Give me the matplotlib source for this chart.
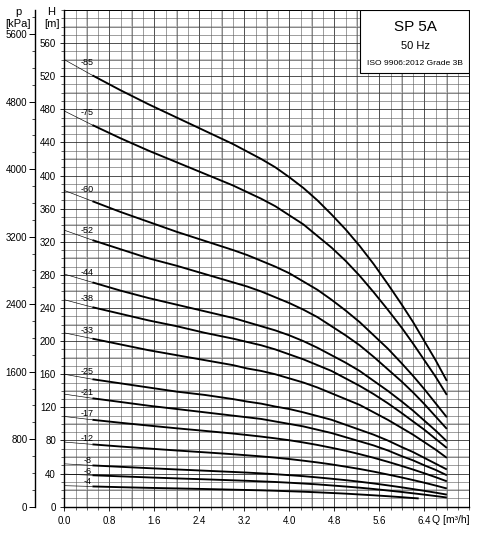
import matplotlib
matplotlib.use("Agg")
import matplotlib.pyplot as plt
from matplotlib.patches import Rectangle
from matplotlib.ticker import MultipleLocator, FixedLocator

plt.rcParams['font.family'] = ['Liberation Sans', 'DejaVu Sans']

# Q points [m3/h] at which the curves were read
flow = [0.0, 0.5, 1.0, 1.5, 2.0, 2.5, 3.0, 3.25, 3.5, 3.75, 4.0, 4.25, 4.5, 4.75,
        5.0, 5.25, 5.5, 5.75, 6.0, 6.2, 6.4, 6.6, 6.8]
flow_4 = [0.0, 0.5, 1.0, 1.5, 2.0, 2.5, 3.0, 3.25, 3.5, 3.75, 4.0, 4.25, 4.5, 4.75,
          5.0, 5.25, 5.5, 5.75, 6.0, 6.15, 6.3]

# head [m] per pump variant
h_85 = [540, 521, 503, 486, 470, 454, 438, 429, 420, 410, 398, 385, 370, 353,
        335, 315, 293, 269, 244, 223, 200, 177, 152]
h_75 = [478, 461, 445, 430, 416, 402, 388, 380, 372, 363, 352, 341, 327, 313,
        297, 279, 259, 238, 216, 197, 177, 157, 135]
h_60 = [382, 369, 356, 344, 332, 321, 310, 304, 297, 290, 282, 272, 262, 250,
        237, 223, 207, 191, 173, 158, 142, 125, 108]
h_52 = [334, 322, 311, 300, 291, 281, 271, 266, 260, 253, 246, 238, 229, 218,
        207, 195, 181, 166, 151, 138, 124, 109, 94]
h_44 = [281, 271, 261, 252, 244, 236, 228, 223, 218, 213, 207, 200, 192, 183,
        174, 164, 152, 140, 127, 116, 104, 92, 79]
h_38 = [250, 241, 233, 225, 218, 210, 203, 199, 195, 190, 184, 178, 171, 164,
        155, 146, 136, 125, 113, 103, 93, 82, 71]
h_33 = [210, 203, 196, 189, 183, 177, 171, 167, 164, 160, 155, 150, 144, 137,
        130, 123, 114, 105, 95, 87, 78, 69, 59]
h_25 = [160, 154, 149, 144, 139, 135, 130, 127, 124.5, 121, 118, 114, 109.5, 105,
        99, 93, 87, 80, 72, 66, 59, 52, 45]
h_21 = [136, 131, 126.5, 122, 118, 114, 110, 108, 106, 103, 100, 97, 93, 89,
        84, 79, 74, 68, 61, 56, 50, 44.5, 38]
h_17 = [109, 105, 101.4, 98, 94.7, 91.6, 88.4, 86.6, 84.7, 82.6, 80.3, 77.6, 74.6, 71.2,
        67.6, 63.5, 59.1, 54.3, 49.2, 44.9, 40.4, 35.7, 30.7]
h_12 = [78.1, 75.3, 72.7, 70.3, 67.9, 65.7, 63.4, 62.1, 60.8, 59.3, 57.6, 55.6, 53.5, 51.1,
        48.4, 45.6, 42.4, 38.9, 35.3, 32.2, 29.0, 25.6, 22.0]
h_8 = [51.8, 49.9, 48.2, 46.6, 45.0, 43.5, 42.0, 41.2, 40.3, 39.3, 38.1, 36.9, 35.4, 33.8,
       32.1, 30.2, 28.1, 25.8, 23.4, 21.3, 19.2, 17.0, 14.6]
h_6 = [39.4, 38.0, 36.7, 35.4, 34.2, 33.1, 31.9, 31.3, 30.6, 29.9, 29.0, 28.0, 27.0, 25.7,
       24.4, 23.0, 21.4, 19.6, 17.8, 16.2, 14.6, 12.9, 11.1]
h_4 = [25.4, 24.5, 23.6, 22.8, 22.1, 21.4, 20.6, 20.2, 19.8, 19.3, 18.7, 18.1, 17.4, 16.6,
       15.8, 14.8, 13.8, 12.7, 11.5, 10.7, 10.0]

labels = ['-85', '-75', '-60', '-52', '-44', '-38', '-33', '-25', '-21', '-17', '-12', '-8', '-6', '-4']
heads = [h_85, h_75, h_60, h_52, h_44, h_38, h_33, h_25, h_21, h_17, h_12, h_8, h_6, h_4]
label_h = [537, 476, 383, 334, 283, 252, 213, 163, 138, 113, 82, 56, 42, 31]
label_q = 0.41

q_ticks = [0.0, 0.8, 1.6, 2.4, 3.2, 4.0, 4.8, 5.6, 6.4]
q_ticklabels = ['0.0', '0.8', '1.6', '2.4', '3.2', '4.0', '4.8', '5.6', '6.4']
h_ticks = list(range(0, 561, 40))
p_ticks = list(range(0, 5601, 800))

fig = plt.figure(figsize=(4.8, 5.33), dpi=100)
ax = fig.add_axes([0.134, 0.0493, 0.8438, 0.932])

# grid (light bands, then fine lines)
for h in range(20, 600, 40):
    ax.axhline(h, color='#c8c8c8', lw=1.4, zorder=0)
for i in range(9):
    ax.axvline(0.4 + 0.8 * i, color='#c8c8c8', lw=1.4, zorder=0)
ax.xaxis.set_major_locator(FixedLocator(q_ticks))
ax.xaxis.set_minor_locator(MultipleLocator(0.2))
ax.yaxis.set_major_locator(FixedLocator(h_ticks))
ax.yaxis.set_minor_locator(MultipleLocator(10))
ax.grid(which='minor', color='#555555', lw=0.4, zorder=1)
ax.grid(which='major', color='#222222', lw=0.55, zorder=1)
ax.set_axisbelow(True)
ax.set_xticklabels(q_ticklabels)
ax.set_xlim(0, 7.2)
ax.set_ylim(0, 600)

ax.tick_params(axis='both', which='major', labelsize=7, length=3, width=0.7, pad=3, color='#222222')
ax.tick_params(axis='both', which='minor', length=2, width=0.5, color='#222222')
ax.tick_params(axis='x', which='major', pad=4)
for side in ['left', 'bottom']:
    ax.spines[side].set_linewidth(1.0)
for side in ['top', 'right']:
    ax.spines[side].set_linewidth(0.7)

# curves: thin start, thick rest
for lab, h in zip(labels, heads):
    q = flow_4 if lab == '-4' else flow
    ax.plot(q[:2], h[:2], color='black', lw=0.45, zorder=3)
    ax.plot(q[1:], h[1:], color='black', lw=1.35, zorder=3, solid_capstyle='butt')

for lab, lh in zip(labels, label_h):
    ax.text(label_q, lh, lab, fontsize=6.5, ha='center', va='center', zorder=4)

# pressure axis
p_ax = ax.secondary_yaxis(-0.0723, functions=(lambda h: h * 9.81, lambda p: p / 9.81))
p_ax.yaxis.set_major_locator(FixedLocator(p_ticks))
p_ax.yaxis.set_minor_locator(FixedLocator(list(range(0, 5801, 200))))
p_ax.tick_params(which='major', labelsize=7, length=4, width=0.7, pad=1.5)
p_ax.tick_params(which='minor', length=2, width=0.5)
p_ax.spines['left'].set_linewidth(1.0)

fig.text(18 / 480, 1 - 12 / 533, 'p', fontsize=8, ha='center', va='center')
fig.text(18 / 480, 1 - 24 / 533, '[kPa]', fontsize=8, ha='center', va='center')
fig.text(51 / 480, 1 - 12 / 533, 'H', fontsize=8, ha='center', va='center')
fig.text(52 / 480, 1 - 24 / 533, '[m]', fontsize=8, ha='center', va='center')
fig.text(432 / 480, 1 - 520 / 533, 'Q [m³/h]', fontsize=7.5, ha='left', va='center')

# info box
ax.add_patch(Rectangle((0.730, 0.873), 0.270, 0.127, transform=ax.transAxes,
                       facecolor='white', edgecolor='black', lw=0.8, zorder=5))
ax.text(0.866, 0.9656, 'SP 5A', transform=ax.transAxes, fontsize=11, ha='center', va='center', zorder=6)
ax.text(0.866, 0.927, '50 Hz', transform=ax.transAxes, fontsize=8, ha='center', va='center', zorder=6)
ax.text(0.866, 0.893, 'ISO 9906:2012 Grade 3B', transform=ax.transAxes, fontsize=6.1,
        ha='center', va='center', zorder=6)

fig.savefig('out.png', dpi=100)
